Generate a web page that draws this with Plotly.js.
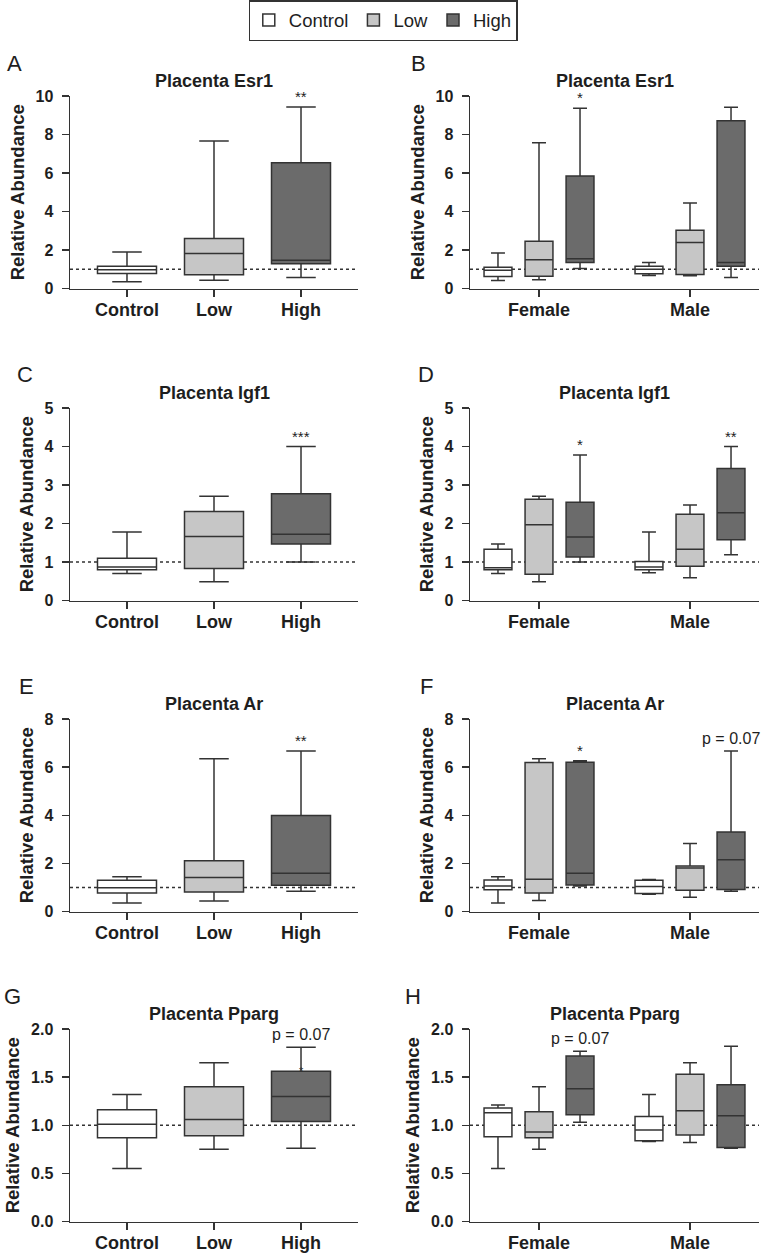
<!DOCTYPE html>
<html>
<head>
<meta charset="utf-8">
<script src="https://cdn.plot.ly/plotly-3.0.1.min.js"></script>
<style>
  html, body { margin: 0; padding: 0; background: #fff; }
  #chart { width: 762px; height: 1257px; }
</style>
</head>
<body>
<div id="chart"></div>
<script>
// ---------------- DATA ----------------
const treatments = ['Control', 'Low', 'High'];
const sexes = ['Female', 'Male'];
const refLevel = 1;

// Panel A: Placenta Esr1 by treatment [Control, Low, High]
const esr1_lower  = [0.35, 0.43, 0.57];
const esr1_q1     = [0.78, 0.71, 1.28];
const esr1_median = [0.98, 1.82, 1.47];
const esr1_q3     = [1.15, 2.60, 6.53];
const esr1_upper  = [1.90, 7.66, 9.43];
const esr1_sig    = ['', '', '**'];

// Panel B: Placenta Esr1 by sex, rows = [Control, Low, High], cols = [Female, Male]
const esr1Sex_lower  = [[0.42, 0.68], [0.45, 0.66], [1.04, 0.57]];
const esr1Sex_q1     = [[0.62, 0.76], [0.64, 0.73], [1.35, 1.16]];
const esr1Sex_median = [[0.95, 1.00], [1.49, 2.39], [1.54, 1.35]];
const esr1Sex_q3     = [[1.11, 1.16], [2.46, 3.03], [5.84, 8.72]];
const esr1Sex_upper  = [[1.85, 1.35], [7.57, 4.44], [9.36, 9.41]];
const esr1Sex_sig    = [['', ''], ['', ''], ['*', '']];

// Panel C: Placenta Igf1 by treatment
const igf1_lower  = [0.70, 0.49, 1.00];
const igf1_q1     = [0.80, 0.83, 1.47];
const igf1_median = [0.87, 1.66, 1.72];
const igf1_q3     = [1.10, 2.31, 2.77];
const igf1_upper  = [1.78, 2.71, 4.00];
const igf1_sig    = ['', '', '***'];

// Panel D: Placenta Igf1 by sex
const igf1Sex_lower  = [[0.70, 0.72], [0.49, 0.59], [1.00, 1.19]];
const igf1Sex_q1     = [[0.80, 0.80], [0.68, 0.89], [1.13, 1.58]];
const igf1Sex_median = [[0.85, 0.87], [1.97, 1.33], [1.65, 2.28]];
const igf1Sex_q3     = [[1.33, 1.01], [2.63, 2.24], [2.55, 3.43]];
const igf1Sex_upper  = [[1.47, 1.78], [2.71, 2.48], [3.78, 4.00]];
const igf1Sex_sig    = [['', ''], ['', ''], ['*', '**']];

// Panel E: Placenta Ar by treatment
const ar_lower  = [0.35, 0.44, 0.84];
const ar_q1     = [0.77, 0.81, 1.09];
const ar_median = [0.99, 1.41, 1.59];
const ar_q3     = [1.30, 2.11, 3.99];
const ar_upper  = [1.44, 6.35, 6.67];
const ar_sig    = ['', '', '**'];

// Panel F: Placenta Ar by sex
const arSex_lower  = [[0.35, 0.72], [0.46, 0.59], [1.06, 0.84]];
const arSex_q1     = [[0.90, 0.75], [0.77, 0.88], [1.10, 0.91]];
const arSex_median = [[1.06, 1.04], [1.34, 1.81], [1.59, 2.15]];
const arSex_q3     = [[1.31, 1.30], [6.19, 1.89], [6.20, 3.30]];
const arSex_upper  = [[1.44, 1.33], [6.35, 2.83], [6.27, 6.67]];
const arSex_sig    = [['', ''], ['', ''], ['*', 'p = 0.07']];

// Panel G: Placenta Pparg by treatment
const pparg_lower  = [0.55, 0.75, 0.76];
const pparg_q1     = [0.87, 0.89, 1.04];
const pparg_median = [1.01, 1.06, 1.30];
const pparg_q3     = [1.16, 1.40, 1.56];
const pparg_upper  = [1.32, 1.65, 1.81];
const pparg_sig    = ['', '', 'p = 0.07'];

// Panel H: Placenta Pparg by sex
const ppargSex_lower  = [[0.55, 0.83], [0.75, 0.82], [1.03, 0.76]];
const ppargSex_q1     = [[0.88, 0.84], [0.87, 0.90], [1.11, 0.77]];
const ppargSex_median = [[1.13, 0.95], [0.93, 1.15], [1.38, 1.10]];
const ppargSex_q3     = [[1.18, 1.09], [1.14, 1.53], [1.72, 1.42]];
const ppargSex_upper  = [[1.21, 1.32], [1.40, 1.65], [1.77, 1.82]];
const ppargSex_sig    = [['', ''], ['', ''], ['p = 0.07', '']];

const panelLetters = ['A', 'B', 'C', 'D', 'E', 'F', 'G', 'H'];
const panelTitles = ['Placenta Esr1', 'Placenta Esr1', 'Placenta Igf1', 'Placenta Igf1',
                     'Placenta Ar', 'Placenta Ar', 'Placenta Pparg', 'Placenta Pparg'];
const yTop   = [10, 10, 5, 5, 8, 8, 2, 2];
const yDtick = [2, 2, 1, 1, 2, 2, 0.5, 0.5];

// ---------------- STYLE ----------------
const W = 762, H = 1257;
const FONT = 'Liberation Sans, Arial, Helvetica, sans-serif';
const INK = '#1e1e1e';
const LINE = '#333333';
const fills = ['#ffffff', '#c6c6c6', '#6b6b6b'];
const colPx = [[70, 358], [470, 759]];
const rowTopPx = [96, 408, 719, 1029];
const plotHpx = 192.5;
const letterXpx = [5, 409, 15, 416, 17, 418, 2, 403];

const panels = [
  {kind: 'trt', s: [esr1_lower, esr1_q1, esr1_median, esr1_q3, esr1_upper], sig: esr1_sig},
  {kind: 'sex', s: [esr1Sex_lower, esr1Sex_q1, esr1Sex_median, esr1Sex_q3, esr1Sex_upper], sig: esr1Sex_sig},
  {kind: 'trt', s: [igf1_lower, igf1_q1, igf1_median, igf1_q3, igf1_upper], sig: igf1_sig},
  {kind: 'sex', s: [igf1Sex_lower, igf1Sex_q1, igf1Sex_median, igf1Sex_q3, igf1Sex_upper], sig: igf1Sex_sig},
  {kind: 'trt', s: [ar_lower, ar_q1, ar_median, ar_q3, ar_upper], sig: ar_sig},
  {kind: 'sex', s: [arSex_lower, arSex_q1, arSex_median, arSex_q3, arSex_upper], sig: arSex_sig},
  {kind: 'trt', s: [pparg_lower, pparg_q1, pparg_median, pparg_q3, pparg_upper], sig: pparg_sig},
  {kind: 'sex', s: [ppargSex_lower, ppargSex_q1, ppargSex_median, ppargSex_q3, ppargSex_upper], sig: ppargSex_sig},
];

const data = [];
const layout = {
  width: W, height: H,
  margin: {l: 0, r: 0, t: 0, b: 0},
  paper_bgcolor: '#ffffff',
  plot_bgcolor: 'rgba(0,0,0,0)',
  font: {family: FONT, color: INK},
  boxmode: 'group',
  boxgap: 0.185,
  boxgroupgap: 0.32,
  showlegend: true,
  legend: {
    orientation: 'h', x: 0.503, xanchor: 'center', y: 1, yanchor: 'top',
    bordercolor: LINE, borderwidth: 1.5, bgcolor: '#ffffff',
    font: {family: FONT, size: 18.5, color: INK},
    itemwidth: 30, tracegroupgap: 0
  },
  shapes: [],
  annotations: []
};

panels.forEach((p, i) => {
  const col = i % 2, row = Math.floor(i / 2);
  const xa = 'x' + (i + 1), ya = 'y' + (i + 1);
  const xKey = 'xaxis' + (i === 0 ? '' : i + 1);
  const yKey = 'yaxis' + (i === 0 ? '' : i + 1);
  const top = rowTopPx[row], bot = top + plotHpx;
  const xDom = [colPx[col][0] / W, colPx[col][1] / W];
  const yDom = [1 - bot / H, 1 - top / H];
  const cats = p.kind === 'trt' ? treatments : sexes;
  const xRange = p.kind === 'trt' ? [-0.655, 2.655] : [-0.457, 1.457];

  layout[xKey] = {
    domain: xDom, anchor: ya, type: 'category', categoryorder: 'array', categoryarray: cats,
    range: xRange, showline: true, linecolor: LINE, linewidth: 1.5,
    ticks: 'outside', ticklen: 7, tickwidth: 1.5, tickcolor: LINE,
    showgrid: false, zeroline: false, fixedrange: true,
    tickfont: {family: FONT, size: 18, color: INK, weight: 'bold'},
    ticklabelstandoff: -3
  };
  layout[yKey] = {
    domain: yDom, anchor: xa, range: [0, yTop[i]], dtick: yDtick[i], tick0: 0,
    tickformat: yDtick[i] < 1 ? '.1f' : 'd',
    showline: true, linecolor: LINE, linewidth: 1.5,
    ticks: 'outside', ticklen: 7, tickwidth: 1.5, tickcolor: LINE,
    showgrid: false, zeroline: false, fixedrange: true,
    tickfont: {family: FONT, size: 16, color: INK, weight: 'bold'},
    ticklabelstandoff: 5,
    title: {text: 'Relative Abundance', font: {family: FONT, size: 18.5, color: INK, weight: 'bold'}, standoff: 6}
  };

  // reference line at 1
  layout.shapes.push({
    type: 'line', xref: xa + ' domain', yref: ya, x0: 0, x1: 1, y0: refLevel, y1: refLevel,
    line: {color: LINE, width: 1.6, dash: 'dot'}, layer: 'below'
  });

  // title and panel letter
  layout.annotations.push({
    xref: 'paper', yref: 'paper', x: (xDom[0] + xDom[1]) / 2, y: 1 - (top - 15) / H,
    xanchor: 'center', yanchor: 'middle', showarrow: false, text: panelTitles[i],
    font: {family: FONT, size: 18, color: INK, weight: 'bold'}
  });
  layout.annotations.push({
    xref: 'paper', yref: 'paper', x: letterXpx[i] / W, y: 1 - (top - 33) / H,
    xanchor: 'left', yanchor: 'middle', showarrow: false, text: panelLetters[i],
    font: {family: FONT, size: 22, color: INK}
  });

  const [lo, q1, med, q3, up] = p.s;
  treatments.forEach((t, k) => {
    const tr = {
      type: 'box', name: t, legendgroup: t, showlegend: i === 0,
      xaxis: xa, yaxis: ya,
      fillcolor: fills[k], line: {color: LINE, width: 1.5},
      whiskerwidth: 0.5, boxpoints: false, hoverinfo: 'skip'
    };
    if (p.kind === 'trt') {
      tr.x = [t];
      tr.lowerfence = [lo[k]]; tr.q1 = [q1[k]]; tr.median = [med[k]];
      tr.q3 = [q3[k]]; tr.upperfence = [up[k]];
      tr.width = 0.678;
      const s = p.sig[k];
      if (s) layout.annotations.push({
        xref: xa, yref: ya, x: t, y: up[k], yanchor: 'bottom', yshift: s.startsWith('p') ? 2 : 0,
        showarrow: false, text: s, font: {family: FONT, size: s.startsWith('p') ? 16 : 15, color: INK}
      });
    } else {
      tr.x = sexes;
      tr.lowerfence = lo[k]; tr.q1 = q1[k]; tr.median = med[k];
      tr.q3 = q3[k]; tr.upperfence = up[k];
      tr.offsetgroup = t;
      sexes.forEach((sx, j) => {
        const s = p.sig[k][j];
        if (s) layout.annotations.push({
          xref: xa, yref: ya, x: sx, y: up[k][j], yanchor: 'bottom',
          xshift: (k - 1) * 41, yshift: s.startsWith('p') ? 2 : 0,
          showarrow: false, text: s, font: {family: FONT, size: s.startsWith('p') ? 16 : 15, color: INK}
        });
      });
    }
    data.push(tr);
  });
});

// faint asterisk that sits on the top edge of the High box in panel G
layout.annotations.push({
  xref: 'x7', yref: 'y7', x: 'High', y: pparg_q3[2], yanchor: 'middle', showarrow: false,
  text: '*', font: {family: FONT, size: 11, color: '#333'}
});

Plotly.newPlot('chart', data, layout, {staticPlot: true, displayModeBar: false});
</script>
</body>
</html>
